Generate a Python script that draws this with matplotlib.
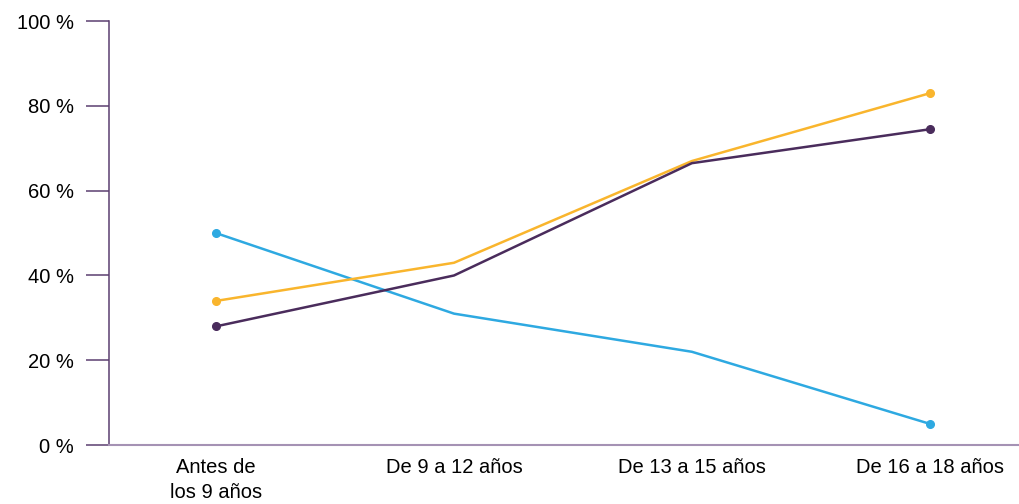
import matplotlib.pyplot as plt

categories = ["Antes de\nlos 9 años", "De 9 a 12 años", "De 13 a 15 años", "De 16 a 18 años"]
blue_vals = [50, 31, 22, 5]
yellow_vals = [34, 43, 67, 83]
purple_vals = [28, 40, 66.5, 74.5]
yticks = [0, 20, 40, 60, 80, 100]

plt.rcParams['font.family'] = ['Liberation Sans', 'DejaVu Sans']

fig = plt.figure(figsize=(10.19, 5.04), dpi=100)
ax = fig.add_axes([0.107, 0.117, 0.893, 0.841])

x = list(range(len(categories)))
series = [(blue_vals, "#2EA9E1"), (yellow_vals, "#F9B52D"), (purple_vals, "#4A2C5C")]
for vals, col in series:
    ax.plot(x, vals, color=col, lw=1.8, solid_capstyle='round')
    ax.plot([x[0], x[-1]], [vals[0], vals[-1]], 'o', color=col, ms=5.5)

ax.set_xlim(-0.45, 3.375)
ax.set_ylim(0, 100)
ax.set_yticks(yticks)
ax.set_yticklabels([f"{v} %" for v in yticks])
ax.set_xticks(x)
ax.set_xticklabels(categories, linespacing=1.45)

for s in ['top', 'right']:
    ax.spines[s].set_visible(False)
ax.spines['left'].set_color("#5B3F70")
ax.spines['bottom'].set_color("#A592B4")
ax.spines['left'].set_linewidth(1.1)
ax.spines['bottom'].set_linewidth(1.5)
ax.tick_params(axis='y', length=16.5, width=1.1, color="#5B3F70", labelsize=14.5, pad=9)
ax.tick_params(axis='x', length=0, labelsize=14.5, pad=9)

fig.savefig("out.png", dpi=100)
